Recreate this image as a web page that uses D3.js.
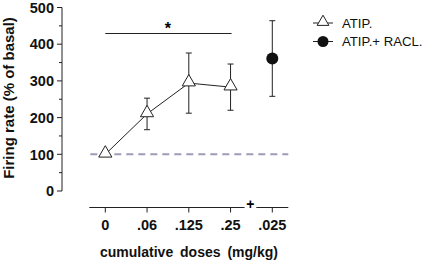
<!DOCTYPE html>
<html lang="en">
<head>
<meta charset="UTF-8">
<title>Firing rate</title>
<script src="https://d3js.org/d3.v7.min.js"></script>
<style>
    body { margin: 0; background: #fff; }
    svg { display: block; font-family: "Liberation Sans", Arial, sans-serif; }
    .tick-lbl { font-size: 14.5px; font-weight: bold; fill: #111; }
</style>
</head>
<body>
<svg width="429" height="261"></svg>
<script>
// data
var doses = ["0", ".06", ".125", ".25", ".025"];
var atipDoses = ["0", ".06", ".125", ".25"];
var atipMean = [100, 210, 294, 283];
var atipErr = [0, 43, 82, 63];
var raclDose = [".025"];
var raclMean = [361];
var raclErr = [103];
var yTicks = [0, 100, 200, 300, 400, 500];
var yMinor = [50, 150, 250, 350, 450];

var svg = d3.select("svg");
var ink = "#222";

var y = d3.scaleLinear().domain([0, 500]).range([191, 7.5]);
var x = d3.scalePoint().domain(doses).range([105.3, 272.3]);

// y axis
var yAxis = svg.append("g").attr("transform", "translate(62,0)");
yAxis.append("line").attr("y1", y(500)).attr("y2", y(0)).attr("stroke", ink).attr("stroke-width", 1);
yAxis.selectAll(".maj").data(yTicks).enter().append("line")
    .attr("x1", -5).attr("x2", 0).attr("y1", d => y(d)).attr("y2", d => y(d))
    .attr("stroke", ink);
yAxis.selectAll(".min").data(yMinor).enter().append("line")
    .attr("x1", -3).attr("x2", 0).attr("y1", d => y(d)).attr("y2", d => y(d))
    .attr("stroke", ink);
yAxis.selectAll("text").data(yTicks).enter().append("text")
    .attr("class", "tick-lbl")
    .attr("x", -8).attr("y", d => y(d)).attr("dy", "0.36em")
    .attr("text-anchor", "end").text(d => d);

svg.append("text")
    .attr("transform", "translate(14," + 98 + ") rotate(-90)")
    .attr("text-anchor", "middle")
    .style("font-size", "15px").style("font-weight", "bold").style("fill", "#111")
    .text("Firing rate (% of basal)");

// x axis (broken)
var axY = 207.5;
var gx = svg.append("g");
gx.append("line").attr("x1", x("0") - 16).attr("x2", x(".25") + 14)
    .attr("y1", axY).attr("y2", axY).attr("stroke", ink);
gx.append("line").attr("x1", x(".025") - 16).attr("x2", x(".025") + 16)
    .attr("y1", axY).attr("y2", axY).attr("stroke", ink);
gx.append("text").attr("x", (x(".25") + x(".025")) / 2 - 1).attr("y", axY + 1)
    .attr("text-anchor", "middle").style("font-size", "14px").style("font-weight", "bold")
    .text("+");
gx.selectAll(".xt").data(doses).enter().append("line")
    .attr("x1", d => x(d)).attr("x2", d => x(d))
    .attr("y1", axY).attr("y2", axY + 5).attr("stroke", ink);
gx.selectAll(".xl").data(doses).enter().append("text")
    .attr("class", "tick-lbl")
    .attr("x", d => x(d)).attr("y", 225).attr("dy", "0.36em")
    .attr("text-anchor", "middle").text(d => d);
svg.append("text")
    .attr("x", 189).attr("y", 252).attr("dy", "0.36em")
    .attr("text-anchor", "middle").style("font-size", "14px").style("font-weight", "bold")
    .style("fill", "#111").style("word-spacing", "3px")
    .text("cumulative doses (mg/kg)");

// baseline dashed
svg.append("line")
    .attr("x1", x("0") - 15).attr("x2", x(".025") + 16)
    .attr("y1", y(100)).attr("y2", y(100))
    .attr("stroke", "#a09ab8").attr("stroke-width", 2).attr("stroke-dasharray", "7,5");

// significance bar
svg.append("line").attr("x1", x("0")).attr("x2", x(".25") + 1)
    .attr("y1", 33.5).attr("y2", 33.5).attr("stroke", ink);
svg.append("text").attr("x", (x("0") + x(".25")) / 2).attr("y", 34)
    .attr("text-anchor", "middle").style("font-size", "16px").style("font-weight", "bold")
    .text("*");

// error bars
function errBars(cats, means, errs) {
    var g = svg.append("g").attr("stroke", ink).attr("stroke-width", 1);
    cats.forEach(function(c, i) {
        if (!errs[i]) return;
        var cx = x(c);
        g.append("line").attr("x1", cx).attr("x2", cx)
            .attr("y1", y(means[i] + errs[i])).attr("y2", y(means[i] - errs[i]));
        [means[i] + errs[i], means[i] - errs[i]].forEach(function(v) {
            g.append("line").attr("x1", cx - 3).attr("x2", cx + 3)
                .attr("y1", y(v)).attr("y2", y(v));
        });
    });
}
errBars(atipDoses, atipMean, atipErr);
errBars(raclDose, raclMean, raclErr);

// ATIP line
var line = d3.line().x((d, i) => x(atipDoses[i])).y(d => y(d));
svg.append("path").datum(atipMean).attr("d", line)
    .attr("fill", "none").attr("stroke", ink).attr("stroke-width", 1);

var tri = d3.symbol().type(d3.symbolTriangle).size(75);
svg.selectAll(".tri").data(atipMean).enter().append("path")
    .attr("d", tri)
    .attr("transform", (d, i) => "translate(" + x(atipDoses[i]) + "," + (y(d) - 1) + ")")
    .attr("fill", "#fff").attr("stroke", ink).attr("stroke-width", 1);

svg.selectAll(".dot").data(raclMean).enter().append("circle")
    .attr("cx", (d, i) => x(raclDose[i])).attr("cy", d => y(d)).attr("r", 6)
    .attr("fill", "#111");

// legend
var lg = svg.append("g");
var leg = [{ name: "ATIP.", y: 23, sym: "tri" }, { name: "ATIP.+ RACL.", y: 41.5, sym: "dot" }];
var legTri = d3.symbol().type(d3.symbolTriangle).size(60);
leg.forEach(function(l) {
    lg.append("line").attr("x1", 313).attr("x2", 333).attr("y1", l.y).attr("y2", l.y)
        .attr("stroke", ink);
    if (l.sym === "tri") {
        lg.append("path").attr("d", legTri).attr("transform", "translate(323," + (l.y - 1) + ")")
            .attr("fill", "#fff").attr("stroke", ink);
    } else {
        lg.append("circle").attr("cx", 323).attr("cy", l.y).attr("r", 5.5).attr("fill", "#111");
    }
    lg.append("text").attr("x", 342).attr("y", l.y).attr("dy", "0.36em")
        .style("font-size", "13.2px").style("fill", "#111").text(l.name);
});
</script>
</body>
</html>
